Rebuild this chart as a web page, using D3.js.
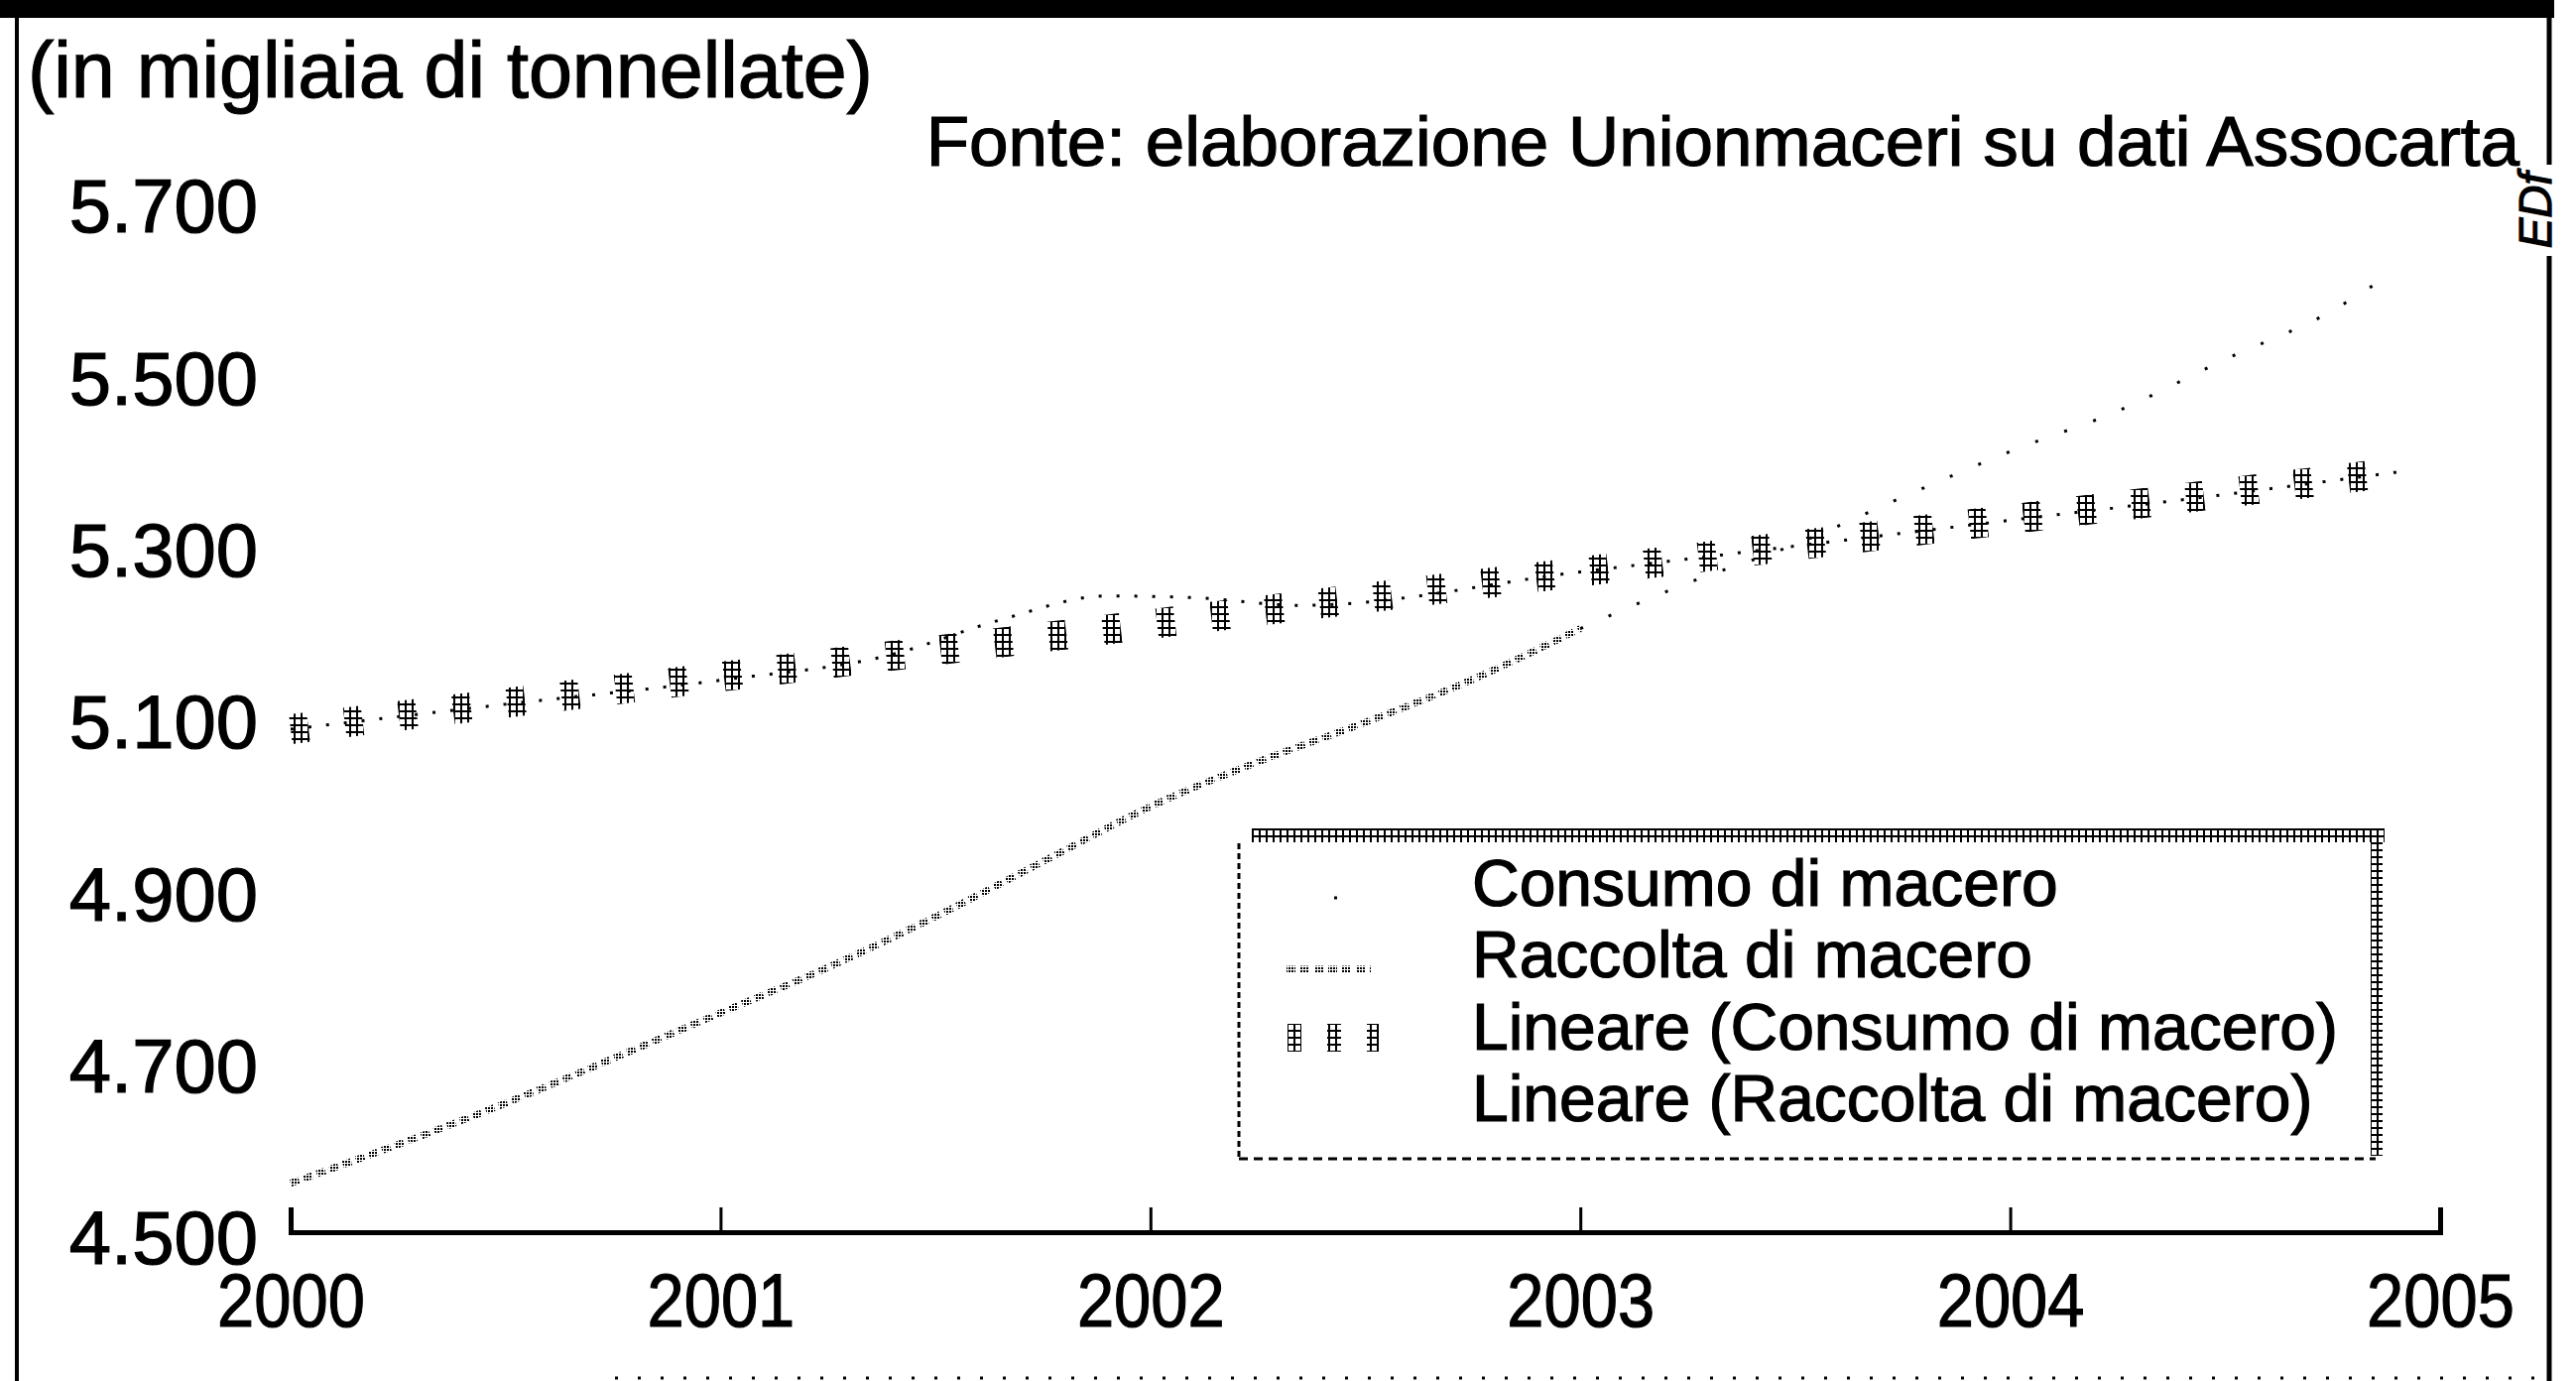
<!DOCTYPE html>
<html>
<head>
<meta charset="utf-8">
<script src="https://cdn.jsdelivr.net/npm/d3@7"></script>
<style>
  body { margin: 0; background: #fff; }
  svg text { font-family: "Liberation Sans", Arial, Helvetica, sans-serif; fill: #000; stroke: #000; stroke-width: 1.2px; }
</style>
</head>
<body>
<script>
var svgWidth = 2597;
var svgHeight = 1392;

// values (migliaia di tonnellate)
var xTicks = [2000, 2001, 2002, 2003, 2004, 2005];
var yTicks = [4500, 4700, 4900, 5100, 5300, 5500, 5700];

var raccoltaYears = [2000, 2000.25, 2000.5, 2000.75, 2001, 2001.25, 2001.5, 2001.75, 2002, 2002.25, 2002.5, 2002.75, 2003];
var raccoltaValues = [4557, 4602, 4650, 4702, 4755, 4808, 4867, 4931, 4995, 5047, 5093, 5143, 5202];

// faint continuation after 2003 (barely printed in the scan)
var tailYears = [2003, 2003.25, 2003.5, 2003.75, 2004, 2004.25, 2004.5, 2004.75, 2004.85];
var tailValues = [5202, 5255, 5300, 5355, 5408, 5455, 5515, 5572, 5603];

var consumoYears = [2000, 2000.5, 2001, 2001.4, 2001.65, 2001.9, 2002.1, 2002.35, 2003, 2003.5, 2004, 2004.5, 2004.9];
var consumoValues = [5085, 5114, 5142, 5172, 5212, 5240, 5238, 5229, 5268, 5298, 5328, 5358, 5384];

var trendYears = [2000, 2004.9];
var trendValues = [5085, 5384];

var legendLabels = ["Consumo di macero", "Raccolta di macero", "Lineare (Consumo di macero)", "Lineare (Raccolta di macero)"];

var svg = d3.select("body")
  .append("svg")
  .attr("width", svgWidth)
  .attr("height", svgHeight);

// halftone textures, the print is a coarse scan
var defs = svg.append("defs");
var hash = defs.append("pattern")
  .attr("id", "hash")
  .attr("patternUnits", "userSpaceOnUse")
  .attr("width", 7)
  .attr("height", 7);
hash.append("rect").attr("x", 0).attr("y", 2).attr("width", 7).attr("height", 2).attr("fill", "#000");
hash.append("rect").attr("x", 2).attr("y", 0).attr("width", 2).attr("height", 7).attr("fill", "#000");

var dots = defs.append("pattern")
  .attr("id", "dots")
  .attr("patternUnits", "userSpaceOnUse")
  .attr("width", 3)
  .attr("height", 3);
dots.append("rect").attr("x", 0).attr("y", 0).attr("width", 2).attr("height", 2).attr("fill", "#000");

var x = d3.scaleLinear().domain([2000, 2005]).range([293, 2460]);
var y = d3.scaleLinear().domain([4500, 5700]).range([1242, 202]);

var it = d3.formatLocale({ decimal: ",", thousands: ".", grouping: [3], currency: ["", "€"] });

function squeeze(sel, k) {
  sel.each(function() {
    var w = this.getComputedTextLength();
    d3.select(this).attr("textLength", w * k).attr("lengthAdjust", "spacingAndGlyphs");
  });
}

// frame of the scanned page
svg.append("rect").attr("x", 0).attr("y", 0).attr("width", 2575).attr("height", 18).attr("fill", "#000");
svg.append("line").attr("x1", 17).attr("x2", 17).attr("y1", 0).attr("y2", svgHeight)
  .attr("stroke", "#000").attr("stroke-width", 4);
svg.append("line").attr("x1", 2570).attr("x2", 2570).attr("y1", 0).attr("y2", 166)
  .attr("stroke", "#000").attr("stroke-width", 5);
svg.append("line").attr("x1", 2570).attr("x2", 2570).attr("y1", 258).attr("y2", svgHeight)
  .attr("stroke", "#000").attr("stroke-width", 5);
svg.append("line").attr("x1", 620).attr("x2", 2560).attr("y1", 1389).attr("y2", 1389)
  .attr("stroke", "#000").attr("stroke-width", 3).attr("stroke-dasharray", "3 20");

svg.append("text")
  .attr("x", 2572)
  .attr("y", 212)
  .attr("transform", "rotate(-90, 2572, 212)")
  .attr("text-anchor", "middle")
  .attr("font-size", 46)
  .attr("font-style", "italic")
  .text("EDf");

// titles
svg.append("text")
  .attr("x", 28)
  .attr("y", 98)
  .attr("font-size", 79)
  .text("(in migliaia di tonnellate)");

svg.append("text")
  .attr("x", 2540)
  .attr("y", 167)
  .attr("text-anchor", "end")
  .attr("font-size", 71)
  .text("Fonte: elaborazione Unionmaceri su dati Assocarta");

// axes
var xAxis = d3.axisBottom(x)
  .tickValues(xTicks)
  .tickFormat(d3.format("d"))
  .tickSizeInner(-25)
  .tickSizeOuter(-25)
  .tickPadding(41);

var xg = svg.append("g")
  .attr("transform", `translate(0, ${y(4500)})`)
  .call(xAxis)
  .attr("font-size", 76)
  .attr("font-family", null);
xg.select(".domain").attr("stroke-width", 5);
xg.selectAll(".tick line").attr("stroke-width", 3);
squeeze(xg.selectAll("text"), 0.88);

var yAxis = d3.axisLeft(y)
  .tickValues(yTicks)
  .tickFormat(it.format(",d"))
  .tickSize(0)
  .tickPadding(33);

var yg = svg.append("g")
  .attr("transform", `translate(${x(2000)}, 0)`)
  .call(yAxis)
  .attr("font-size", 76)
  .attr("font-family", null);
yg.select(".domain").remove();
yg.selectAll("text").attr("dy", "0.42em");

// series
var smooth = d3.line()
  .x(d => x(d[0]))
  .y(d => y(d[1]))
  .curve(d3.curveMonotoneX);

var straight = d3.line()
  .x(d => x(d[0]))
  .y(d => y(d[1]));

var consumoStyle = { stroke: "#000", width: 3, dash: "3 15" };
var raccoltaStyle = { stroke: "url(#dots)", width: 7, dash: "9 5" };
var trendStyle = { stroke: "url(#hash)", width: 30, dash: "18 37" };
var tailStyle = { stroke: "#000", width: 3, dash: "3 28" };

function drawPath(data, gen, st) {
  svg.append("path")
    .datum(data)
    .attr("d", gen)
    .attr("fill", "none")
    .attr("stroke", st.stroke)
    .attr("stroke-width", st.width)
    .attr("stroke-dasharray", st.dash);
}

drawPath(d3.zip(consumoYears, consumoValues), smooth, consumoStyle);
drawPath(d3.zip(trendYears, trendValues), straight, trendStyle);
drawPath(d3.zip(raccoltaYears, raccoltaValues), smooth, raccoltaStyle);
drawPath(d3.zip(tailYears, tailValues), smooth, tailStyle);

// legend
var legend = svg.append("g");
legend.append("rect")
  .attr("x", 1249).attr("y", 846)
  .attr("width", 1146).attr("height", 322)
  .attr("fill", "#fff");
legend.append("rect")
  .attr("x", 1262).attr("y", 835)
  .attr("width", 1142).attr("height", 14)
  .attr("fill", "url(#hash)");
legend.append("rect")
  .attr("x", 2390).attr("y", 835)
  .attr("width", 12).attr("height", 330)
  .attr("fill", "url(#hash)");
legend.append("line")
  .attr("x1", 1249).attr("x2", 1249).attr("y1", 850).attr("y2", 1168)
  .attr("stroke", "#000").attr("stroke-width", 3).attr("stroke-dasharray", "6 4");
legend.append("line")
  .attr("x1", 1249).attr("x2", 2395).attr("y1", 1168).attr("y2", 1168)
  .attr("stroke", "#000").attr("stroke-width", 3).attr("stroke-dasharray", "9 6");

var rowText = [913, 985, 1058, 1130];
var rowMark = [905, 977, 1046, 1118];
var legendStyles = [consumoStyle, raccoltaStyle, trendStyle, null];
var markSpan = [[1345, 1360], [1297, 1383], [1298, 1390], null];

legendLabels.forEach(function(label, i) {
  if (legendStyles[i]) {
    var st = legendStyles[i];
    legend.append("line")
      .attr("x1", markSpan[i][0]).attr("x2", markSpan[i][1])
      .attr("y1", rowMark[i]).attr("y2", rowMark[i])
      .attr("stroke", st.stroke)
      .attr("stroke-width", i === 2 ? 28 : st.width)
      .attr("stroke-dasharray", i === 2 ? "14 26" : st.dash);
  }
  legend.append("text")
    .attr("x", 1484)
    .attr("y", rowText[i])
    .attr("font-size", 66)
    .text(label);
});
</script>
</body>
</html>
